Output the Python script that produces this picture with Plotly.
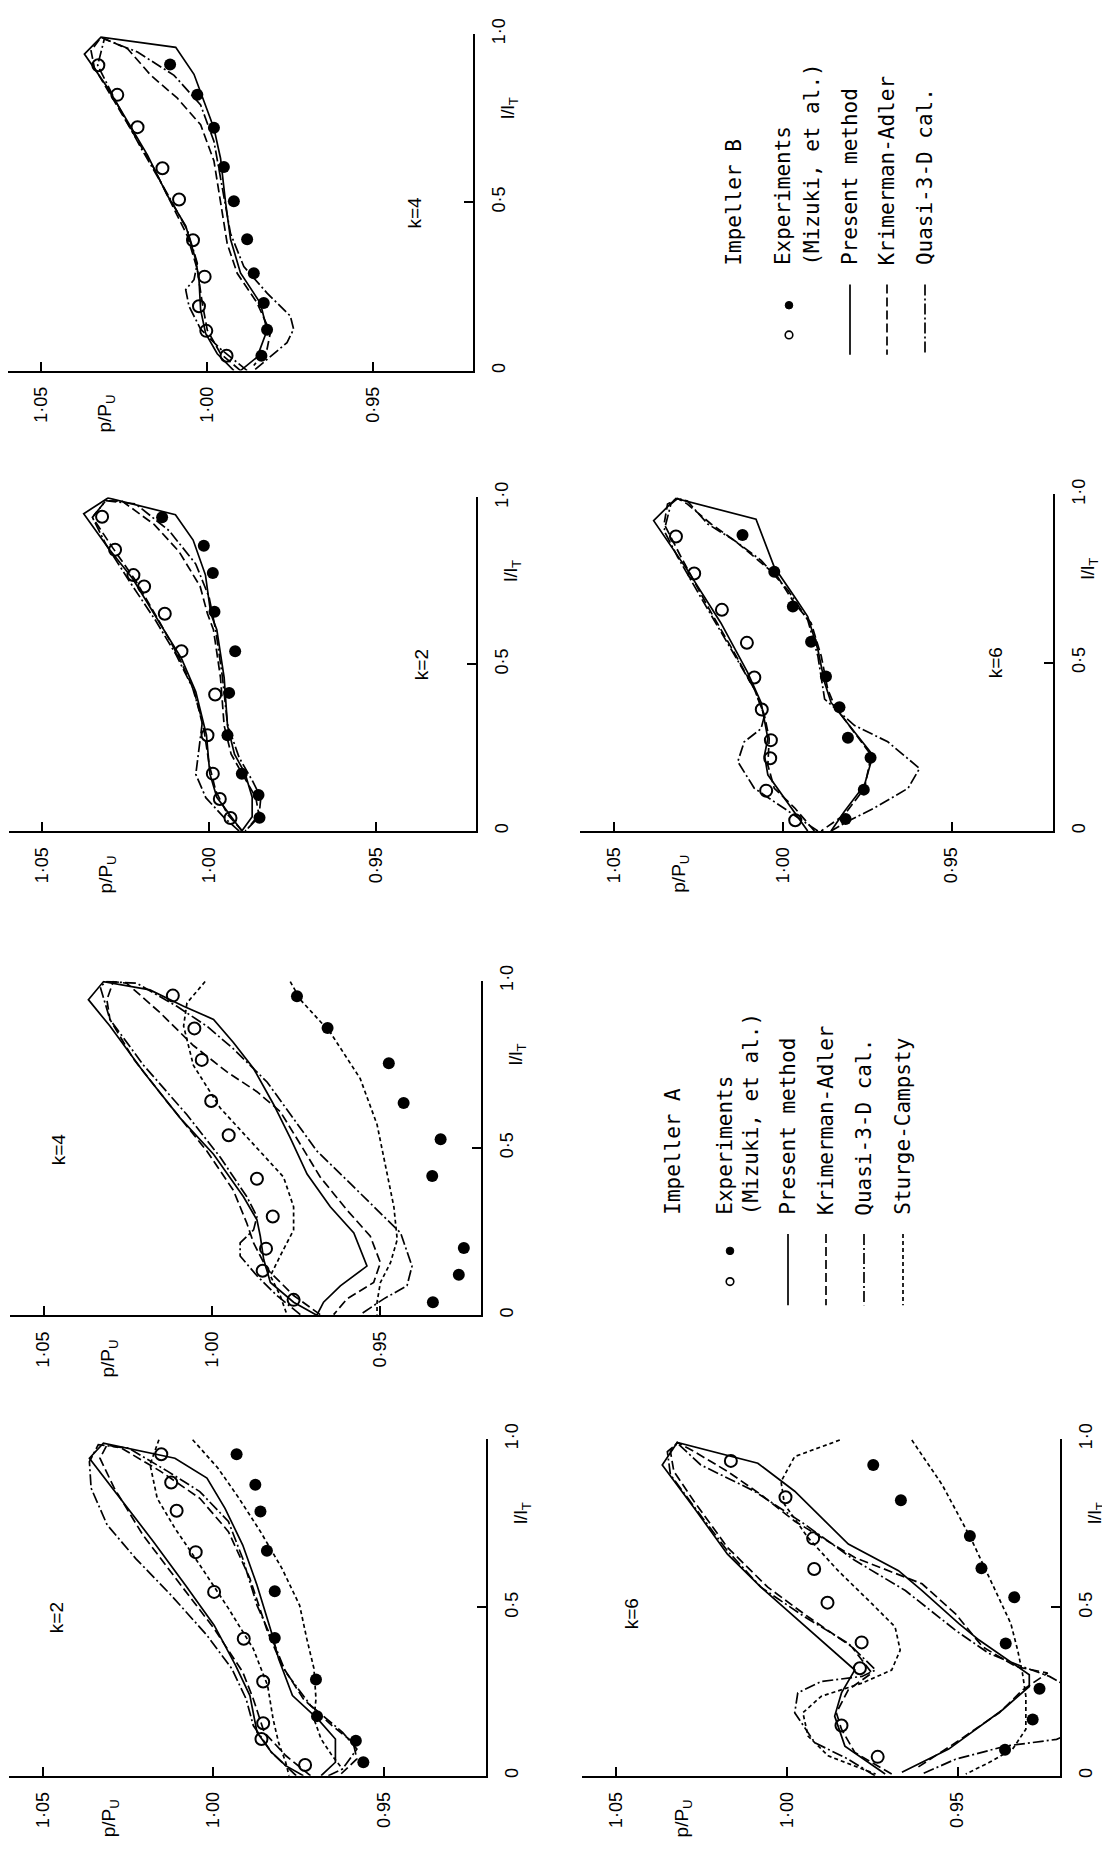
import plotly.graph_objects as go

W, H = 1110, 1850
OFF = 8  # default page margin of the browser body; the figure is shifted by it
FW, FH = W - OFF, H - OFF

# ---------------- tick labels ----------------
P_TICKS = [1.05, 1.00, 0.95]
P_TICK_TEXT = ["1·05", "1·00", "0·95"]
L_TICKS = [0.0, 0.5, 1.0]
L_TICK_TEXT = ["0", "0·5", "1·0"]

# ---------------- Impeller A, k=2 ----------------
A2_open_p = [1.0153, 1.0124, 1.0108, 1.0052, 0.9998, 0.9911, 0.9854, 0.9854, 0.9859, 0.9731]
A2_open_l = [0.955, 0.871, 0.787, 0.664, 0.546, 0.407, 0.280, 0.156, 0.109, 0.032]
A2_fill_p = [0.9932, 0.9877, 0.9862, 0.9843, 0.9820, 0.9820, 0.9699, 0.9696, 0.9582, 0.9560]
A2_fill_l = [0.955, 0.864, 0.785, 0.668, 0.548, 0.409, 0.286, 0.177, 0.104, 0.040]
A2_present_p = [0.9736, 0.9788, 0.9830, 0.9872, 0.9893, 0.9935, 0.9998, 1.0082, 1.0176, 1.0281, 1.0364, 1.0323,
                1.0113, 1.0019, 0.9966, 0.9914, 0.9872, 0.9830, 0.9809, 0.9768, 0.9694, 0.9642, 0.9642, 0.9684]
A2_present_l = [0.0, 0.030, 0.070, 0.129, 0.238, 0.328, 0.447, 0.566, 0.695, 0.834, 0.943, 0.988,
                0.943, 0.884, 0.794, 0.685, 0.566, 0.427, 0.348, 0.238, 0.169, 0.109, 0.040, 0.0]
A2_ka_p = [0.9715, 0.9788, 0.9851, 0.9883, 0.9914, 0.9998, 1.0103, 1.0207, 1.0291, 1.0333, 1.0312,
           1.0270, 1.0155, 1.0040, 0.9956, 0.9893, 0.9841, 0.9799, 0.9736, 0.9652, 0.9590, 0.9579, 0.9631]
A2_ka_l = [0.0, 0.060, 0.129, 0.228, 0.308, 0.437, 0.576, 0.715, 0.854, 0.943, 0.983,
           0.973, 0.904, 0.824, 0.725, 0.586, 0.427, 0.328, 0.228, 0.149, 0.099, 0.050, 0.0]
A2_q3d_p = [0.9757, 0.9830, 0.9883, 0.9904, 0.9946, 1.0019, 1.0124, 1.0228, 1.0312, 1.0359, 1.0364, 1.0338,
            1.0249, 1.0134, 1.0040, 0.9956, 0.9914, 0.9872, 0.9820, 0.9788, 0.9715, 0.9621, 0.9579, 0.9621, 0.9663]
A2_q3d_l = [0.0, 0.070, 0.149, 0.228, 0.318, 0.417, 0.536, 0.645, 0.745, 0.854, 0.933, 0.983,
            0.973, 0.904, 0.844, 0.755, 0.645, 0.506, 0.387, 0.308, 0.209, 0.129, 0.079, 0.020, 0.0]
A2_sc_up_p = [1.0160, 1.0186, 1.0165, 1.0113, 1.0040, 0.9956, 0.9883, 0.9841, 0.9825, 0.9809, 0.9788, 0.9778]
A2_sc_up_l = [0.998, 0.924, 0.824, 0.735, 0.626, 0.497, 0.377, 0.268, 0.169, 0.099, 0.040, 0.0]
A2_sc_lo_p = [1.0061, 0.9987, 0.9925, 0.9862, 0.9799, 0.9747, 0.9726, 0.9705, 0.9699, 0.9705, 0.9684, 0.9652, 0.9621]
A2_sc_lo_l = [0.998, 0.914, 0.824, 0.725, 0.616, 0.506, 0.407, 0.318, 0.228, 0.169, 0.109, 0.060, 0.020]

# ---------------- Impeller A, k=4 ----------------
A4_open_p = [1.0116, 1.0052, 1.0030, 1.0002, 0.9950, 0.9866, 0.9819, 0.9839, 0.9849, 0.9757]
A4_open_l = [0.955, 0.857, 0.763, 0.640, 0.538, 0.408, 0.295, 0.199, 0.133, 0.046]
A4_fill_p = [0.9747, 0.9656, 0.9474, 0.9430, 0.9320, 0.9345, 0.9177, 0.9251, 0.9266, 0.9343]
A4_fill_l = [0.953, 0.858, 0.753, 0.634, 0.526, 0.416, 0.300, 0.201, 0.121, 0.039]
A4_present_p = [0.9688, 0.9757, 0.9826, 0.9846, 0.9856, 0.9866, 0.9906, 0.9995, 1.0094, 1.0203, 1.0303, 1.0367, 1.0322,
                1.0184, 1.0084, 0.9995, 0.9936, 0.9876, 0.9816, 0.9767, 0.9717, 0.9648, 0.9578, 0.9539, 0.9618, 0.9668, 0.9688]
A4_present_l = [0.0, 0.039, 0.098, 0.167, 0.236, 0.285, 0.354, 0.481, 0.589, 0.727, 0.864, 0.943, 0.997,
                0.972, 0.923, 0.884, 0.815, 0.737, 0.629, 0.530, 0.422, 0.324, 0.246, 0.147, 0.088, 0.039, 0.0]
A4_ka_p = [0.9678, 0.9757, 0.9836, 0.9876, 0.9896, 0.9936, 1.0015, 1.0134, 1.0233, 1.0303, 1.0312, 1.0293,
           1.0253, 1.0154, 1.0055, 0.9955, 0.9866, 0.9797, 0.9737, 0.9678, 0.9598, 0.9529, 0.9499, 0.9519, 0.9598, 0.9638]
A4_ka_l = [0.002, 0.059, 0.138, 0.216, 0.275, 0.373, 0.491, 0.639, 0.766, 0.884, 0.943, 0.997,
           0.992, 0.904, 0.806, 0.727, 0.668, 0.609, 0.511, 0.413, 0.314, 0.236, 0.157, 0.098, 0.049, 0.002]
A4_q3d_p = [0.9737, 0.9807, 0.9866, 0.9916, 0.9916, 0.9876, 0.9866, 0.9896, 0.9975, 1.0074, 1.0203, 1.0303, 1.0332, 1.0312,
            1.0223, 1.0104, 1.0015, 0.9936, 0.9836, 0.9757, 0.9688, 0.9588, 0.9509, 0.9439, 0.9405, 0.9420, 0.9489, 0.9559]
A4_q3d_l = [0.002, 0.059, 0.118, 0.177, 0.216, 0.255, 0.295, 0.354, 0.472, 0.599, 0.747, 0.884, 0.982, 0.997,
            0.992, 0.923, 0.864, 0.796, 0.697, 0.589, 0.491, 0.393, 0.314, 0.246, 0.147, 0.088, 0.049, 0.002]
A4_sc_up_p = [1.0020, 1.0074, 1.0084, 1.0055, 0.9975, 0.9876, 0.9787, 0.9757, 0.9757, 0.9797, 0.9826, 0.9797, 0.9777]
A4_sc_up_l = [0.997, 0.933, 0.864, 0.747, 0.619, 0.511, 0.413, 0.324, 0.255, 0.177, 0.118, 0.059, 0.002]
A4_sc_lo_p = [0.9767, 0.9737, 0.9648, 0.9559, 0.9509, 0.9479, 0.9459, 0.9449, 0.9469, 0.9499, 0.9509, 0.9509]
A4_sc_lo_l = [0.997, 0.943, 0.845, 0.707, 0.570, 0.422, 0.324, 0.226, 0.157, 0.098, 0.039, 0.002]

# ---------------- Impeller A, k=6 ----------------
A6_open_p = [1.0164, 1.0004, 0.9923, 0.9920, 0.9881, 0.9781, 0.9786, 0.9840, 0.9734]
A6_open_l = [0.935, 0.827, 0.705, 0.614, 0.514, 0.396, 0.319, 0.149, 0.056]
A6_fill_p = [0.9747, 0.9666, 0.9464, 0.9430, 0.9334, 0.9359, 0.9187, 0.9260, 0.9280, 0.9361]
A6_fill_l = [0.923, 0.818, 0.712, 0.616, 0.530, 0.393, 0.334, 0.258, 0.167, 0.077]
A6_present_p = [0.9712, 0.9830, 0.9860, 0.9840, 0.9801, 0.9879, 0.9968, 1.0076, 1.0174, 1.0272, 1.0365, 1.0321,
                1.0085, 0.9977, 0.9820, 0.9673, 0.9604, 0.9496, 0.9437, 0.9339, 0.9290, 0.9290, 0.9368, 0.9526, 0.9663]
A6_present_l = [0.005, 0.088, 0.177, 0.246, 0.314, 0.383, 0.462, 0.560, 0.658, 0.796, 0.923, 0.990,
                0.928, 0.845, 0.688, 0.609, 0.550, 0.452, 0.403, 0.334, 0.300, 0.265, 0.196, 0.079, 0.010]
A6_ka_p = [0.9693, 0.9801, 0.9840, 0.9855, 0.9820, 0.9751, 0.9810, 0.9938, 1.0056, 1.0174, 1.0272, 1.0331, 1.0341, 1.0321,
           1.0272, 1.0174, 1.0076, 0.9977, 0.9801, 0.9604, 0.9506, 0.9427, 0.9329, 0.9236, 0.9309, 0.9378, 0.9506, 0.9624]
A6_ka_l = [0.005, 0.069, 0.138, 0.187, 0.255, 0.305, 0.383, 0.472, 0.560, 0.678, 0.815, 0.904, 0.963, 0.990,
           0.963, 0.904, 0.835, 0.756, 0.648, 0.570, 0.481, 0.383, 0.324, 0.305, 0.255, 0.187, 0.098, 0.020]
A6_q3d_p = [0.9742, 0.9820, 0.9918, 0.9977, 0.9968, 0.9899, 0.9780, 0.9740, 0.9820, 0.9948, 1.0076, 1.0174, 1.0262, 1.0341, 1.0350, 1.0320,
            1.0252, 1.0095, 0.9948, 0.9800, 0.9653, 0.9506, 0.9408, 0.9310, 0.9231, 0.9152, 0.9080, 0.9110, 0.9210, 0.9359, 0.9506, 0.9604]
A6_q3d_l = [0.0, 0.049, 0.098, 0.187, 0.246, 0.280, 0.295, 0.314, 0.393, 0.472, 0.560, 0.668, 0.786, 0.894, 0.963, 0.987,
            0.923, 0.845, 0.747, 0.639, 0.550, 0.432, 0.363, 0.324, 0.295, 0.250, 0.200, 0.150, 0.108, 0.088, 0.049, 0.005]
A6_sc_up_p = [0.9845, 0.9977, 1.0017, 1.0007, 0.9938, 0.9850, 0.9751, 0.9683, 0.9668, 0.9693, 0.9780, 0.9899, 0.9953, 0.9938, 0.9879, 0.9740]
A6_sc_up_l = [0.997, 0.948, 0.874, 0.806, 0.707, 0.609, 0.511, 0.442, 0.373, 0.314, 0.275, 0.236, 0.187, 0.118, 0.059, 0.005]
A6_sc_lo_p = [0.9634, 0.9545, 0.9462, 0.9398, 0.9344, 0.9324, 0.9310, 0.9300, 0.9300, 0.9339, 0.9408, 0.9476]
A6_sc_lo_l = [0.997, 0.864, 0.707, 0.570, 0.452, 0.373, 0.305, 0.236, 0.138, 0.079, 0.039, 0.005]

# ---------------- Impeller B, k=2 ----------------
B2_open_p = [1.0321, 1.0282, 1.0227, 1.0195, 1.0133, 1.0083, 0.9982, 1.0005, 0.9989, 0.9968, 0.9936]
B2_open_l = [0.942, 0.843, 0.767, 0.733, 0.651, 0.539, 0.409, 0.287, 0.172, 0.096, 0.039]
B2_fill_p = [1.0141, 1.0016, 0.9989, 0.9984, 0.9922, 0.9940, 0.9945, 0.9902, 0.9852, 0.9849]
B2_fill_l = [0.940, 0.855, 0.773, 0.657, 0.539, 0.414, 0.287, 0.172, 0.108, 0.040]
B2_present_p = [0.9902, 0.9934, 0.9977, 0.9998, 1.0008, 1.0040, 1.0083, 1.0136, 1.0165, 1.0229, 1.0303, 1.0376, 1.0303,
                1.0101, 1.0048, 1.0011, 0.9995, 0.9977, 0.9955, 0.9945, 0.9924, 0.9892, 0.9871, 0.9871, 0.9902]
B2_present_l = [0.0, 0.043, 0.101, 0.172, 0.287, 0.417, 0.517, 0.603, 0.651, 0.756, 0.849, 0.951, 0.998,
                0.948, 0.872, 0.767, 0.651, 0.603, 0.460, 0.316, 0.230, 0.172, 0.101, 0.043, 0.0]
B2_ka_p = [0.9900, 0.9945, 0.9980, 1.0000, 1.0015, 1.0045, 1.0090, 1.0145, 1.0220, 1.0290, 1.0350, 1.0310,
           1.0260, 1.0165, 1.0090, 1.0027, 1.0005, 0.9987, 0.9966, 0.9955, 0.9934, 0.9892, 0.9860, 0.9850, 0.9892]
B2_ka_l = [0.0, 0.05, 0.12, 0.20, 0.30, 0.42, 0.52, 0.62, 0.75, 0.85, 0.94, 0.99,
           0.988, 0.919, 0.837, 0.733, 0.651, 0.603, 0.46, 0.316, 0.23, 0.158, 0.10, 0.043, 0.0]
B2_q3d_p = [0.9910, 0.9955, 1.0010, 1.0040, 1.0030, 1.0020, 1.0050, 1.0100, 1.0160, 1.0240, 1.0310, 1.0350, 1.0310,
            1.0220, 1.0120, 1.0040, 1.0000, 0.9980, 0.9960, 0.9945, 0.9910, 0.9870, 0.9845, 0.9850, 0.9890]
B2_q3d_l = [0.0, 0.04, 0.10, 0.17, 0.25, 0.33, 0.43, 0.53, 0.63, 0.75, 0.86, 0.94, 0.99,
            0.98, 0.90, 0.80, 0.70, 0.60, 0.46, 0.32, 0.22, 0.15, 0.10, 0.05, 0.0]

# ---------------- Impeller B, k=4 ----------------
B4_open_p = [1.0328, 1.0271, 1.0210, 1.0135, 1.0085, 1.0043, 1.0008, 1.0025, 1.0003, 0.9942]
B4_open_l = [0.907, 0.819, 0.723, 0.601, 0.508, 0.387, 0.279, 0.191, 0.118, 0.044]
B4_fill_p = [1.0112, 1.0030, 0.9980, 0.9950, 0.9920, 0.9880, 0.9860, 0.9830, 0.9820, 0.9837]
B4_fill_l = [0.909, 0.819, 0.721, 0.605, 0.503, 0.390, 0.289, 0.201, 0.121, 0.044]
B4_present_p = [0.9920, 0.9970, 1.0005, 1.0020, 1.0025, 1.0035, 1.0065, 1.0120, 1.0180, 1.0240, 1.0300, 1.0370, 1.0320,
                1.0095, 1.0040, 1.0010, 0.9980, 0.9960, 0.9945, 0.9930, 0.9900, 0.9840, 0.9820, 0.9850, 0.9900]
B4_present_l = [0.0, 0.05, 0.11, 0.18, 0.27, 0.33, 0.43, 0.52, 0.64, 0.74, 0.84, 0.94, 0.99,
                0.96, 0.88, 0.80, 0.72, 0.63, 0.50, 0.39, 0.29, 0.20, 0.12, 0.04, 0.0]
B4_ka_p = [0.9900, 0.9960, 1.0000, 1.0015, 1.0030, 1.0060, 1.0110, 1.0160, 1.0220, 1.0280, 1.0340, 1.0350, 1.0320,
           1.0240, 1.0170, 1.0090, 1.0020, 0.9980, 0.9960, 0.9940, 0.9910, 0.9850, 0.9810, 0.9820, 0.9860]
B4_ka_l = [0.0, 0.05, 0.12, 0.20, 0.30, 0.40, 0.50, 0.60, 0.70, 0.80, 0.90, 0.95, 0.99,
           0.956, 0.877, 0.809, 0.73, 0.623, 0.505, 0.377, 0.289, 0.201, 0.113, 0.064, 0.015]
B4_q3d_p = [0.9880, 0.9960, 1.0020, 1.0055, 1.0065, 1.0040, 1.0030, 1.0060, 1.0120, 1.0200, 1.0270, 1.0330, 1.0310,
            1.0210, 1.0100, 1.0020, 0.9980, 0.9955, 0.9930, 0.9890, 0.9820, 0.9750, 0.9740, 0.9760, 0.9820, 0.9860]
B4_q3d_l = [0.0, 0.064, 0.123, 0.191, 0.24, 0.27, 0.319, 0.417, 0.525, 0.662, 0.789, 0.907, 0.985,
            0.946, 0.877, 0.789, 0.681, 0.544, 0.407, 0.309, 0.230, 0.162, 0.123, 0.083, 0.034, 0.0]

# ---------------- Impeller B, k=6 ----------------
B6_open_p = [1.0316, 1.0262, 1.0180, 1.0106, 1.0084, 1.0062, 1.0035, 1.0037, 1.0049, 0.9963]
B6_open_l = [0.875, 0.765, 0.657, 0.559, 0.456, 0.361, 0.270, 0.216, 0.120, 0.032]
B6_fill_p = [1.0119, 1.0025, 0.9970, 0.9916, 0.9872, 0.9832, 0.9807, 0.9740, 0.9760, 0.9814]
B6_fill_l = [0.879, 0.770, 0.667, 0.562, 0.459, 0.368, 0.277, 0.218, 0.123, 0.036]
B6_present_p = [0.9926, 0.9995, 1.0044, 1.0054, 1.0044, 1.0064, 1.0104, 1.0183, 1.0282, 1.0382, 1.0316,
                1.0079, 1.0025, 0.9965, 0.9926, 0.9896, 0.9876, 0.9857, 0.9788, 0.9733, 0.9758, 0.9817, 0.9857]
B6_present_l = [0.0, 0.098, 0.167, 0.225, 0.275, 0.382, 0.471, 0.618, 0.775, 0.922, 0.988,
                0.926, 0.784, 0.696, 0.637, 0.539, 0.441, 0.382, 0.294, 0.225, 0.137, 0.059, 0.0]
B6_ka_p = [0.9906, 0.9965, 1.0025, 1.0044, 1.0040, 1.0054, 1.0084, 1.0143, 1.0222, 1.0301, 1.0351, 1.0341, 1.0311,
           1.0282, 1.0212, 1.0143, 1.0084, 1.0015, 0.9965, 0.9916, 0.9886, 0.9867, 0.9847, 0.9788, 0.9738, 0.9758, 0.9817, 0.9886]
B6_ka_l = [0.0, 0.069, 0.127, 0.196, 0.275, 0.343, 0.422, 0.529, 0.667, 0.814, 0.912, 0.971, 0.988,
           0.971, 0.912, 0.863, 0.814, 0.755, 0.676, 0.618, 0.520, 0.422, 0.373, 0.294, 0.225, 0.127, 0.049, 0.0]
B6_q3d_p = [0.9896, 0.9985, 1.0084, 1.0133, 1.0114, 1.0064, 1.0054, 1.0084, 1.0153, 1.0232, 1.0311, 1.0351, 1.0331, 1.0311,
            1.0282, 1.0222, 1.0143, 1.0064, 0.9985, 0.9926, 0.9896, 0.9876, 0.9788, 0.9689, 0.9595, 0.9629, 0.9728, 0.9807, 0.9857]
B6_q3d_l = [0.0, 0.059, 0.127, 0.206, 0.265, 0.304, 0.343, 0.422, 0.539, 0.676, 0.814, 0.892, 0.971, 0.988,
            0.980, 0.912, 0.863, 0.804, 0.716, 0.627, 0.520, 0.392, 0.314, 0.265, 0.186, 0.127, 0.069, 0.029, 0.0]

# ---------------- legend texts ----------------
LEG_A_TITLE = "Impeller A"
LEG_B_TITLE = "Impeller B"
LEG_EXP = ["Experiments", "(Mizuki, et al.)"]
LEG_A_METHODS = ["Present method", "Krimerman-Adler", "Quasi-3-D cal.", "Sturge-Campsty"]
LEG_B_METHODS = ["Present method", "Krimerman-Adler", "Quasi-3-D cal."]

# ---------------- styles ----------------
DASH = {
    "Present method": "solid",
    "Krimerman-Adler": "9px,4px",
    "Quasi-3-D cal.": "11px,3px,2px,3px",
    "Sturge-Campsty": "4px,3px",
}
TICK_FONT = dict(family="Liberation Sans, Arial, sans-serif", size=18, color="black")
K_FONT = dict(family="Liberation Sans, Arial, sans-serif", size=19, color="black")
LABEL_FONT = dict(family="Liberation Sans, Arial, sans-serif", size=19, color="black")
LEG_FONT = dict(family="DejaVu Sans Mono, Liberation Mono, monospace", size=21, color="black")

# panel: k label, pixel box (x at p=1.06, x at p=0.92, y at l=1, y at l=0), k-label position (p, l)
PANELS = [
    dict(k="k=2", box=(9, 486, 1437, 1777), kpos=(1.046, 0.47),
         open=(A2_open_p, A2_open_l), fill=(A2_fill_p, A2_fill_l),
         curves=[("Present method", A2_present_p, A2_present_l), ("Krimerman-Adler", A2_ka_p, A2_ka_l),
                 ("Quasi-3-D cal.", A2_q3d_p, A2_q3d_l), ("Sturge-Campsty", A2_sc_up_p, A2_sc_up_l),
                 ("Sturge-Campsty", A2_sc_lo_p, A2_sc_lo_l)]),
    dict(k="k=4", box=(10, 481, 974, 1312), kpos=(1.0455, 0.495),
         open=(A4_open_p, A4_open_l), fill=(A4_fill_p, A4_fill_l),
         curves=[("Present method", A4_present_p, A4_present_l), ("Krimerman-Adler", A4_ka_p, A4_ka_l),
                 ("Quasi-3-D cal.", A4_q3d_p, A4_q3d_l), ("Sturge-Campsty", A4_sc_up_p, A4_sc_up_l),
                 ("Sturge-Campsty", A4_sc_lo_p, A4_sc_lo_l)]),
    dict(k="k=6", box=(582, 1060, 1437, 1777), kpos=(1.0456, 0.48),
         open=(A6_open_p, A6_open_l), fill=(A6_fill_p, A6_fill_l),
         curves=[("Present method", A6_present_p, A6_present_l), ("Krimerman-Adler", A6_ka_p, A6_ka_l),
                 ("Quasi-3-D cal.", A6_q3d_p, A6_q3d_l), ("Sturge-Campsty", A6_sc_up_p, A6_sc_up_l),
                 ("Sturge-Campsty", A6_sc_lo_p, A6_sc_lo_l)]),
    dict(k="k=2", box=(9, 476, 486, 823), kpos=(0.9365, 0.50),
         open=(B2_open_p, B2_open_l), fill=(B2_fill_p, B2_fill_l),
         curves=[("Present method", B2_present_p, B2_present_l), ("Krimerman-Adler", B2_ka_p, B2_ka_l),
                 ("Quasi-3-D cal.", B2_q3d_p, B2_q3d_l)]),
    dict(k="k=4", box=(8, 473, 18, 358), kpos=(0.9377, 0.47),
         open=(B4_open_p, B4_open_l), fill=(B4_fill_p, B4_fill_l),
         curves=[("Present method", B4_present_p, B4_present_l), ("Krimerman-Adler", B4_ka_p, B4_ka_l),
                 ("Quasi-3-D cal.", B4_q3d_p, B4_q3d_l)]),
    dict(k="k=6", box=(580, 1053, 483, 823), kpos=(0.937, 0.50),
         open=(B6_open_p, B6_open_l), fill=(B6_fill_p, B6_fill_l),
         curves=[("Present method", B6_present_p, B6_present_l), ("Krimerman-Adler", B6_ka_p, B6_ka_l),
                 ("Quasi-3-D cal.", B6_q3d_p, B6_q3d_l)]),
]

P_RANGE = [1.06, 0.92]
L_RANGE = [0.0, 1.0]


def px(x):
    return (x - OFF) / FW


def py(y):
    return 1 - (y - OFF) / FH


def clamp(v):
    return min(1.0, max(0.0, v))


fig = go.Figure()
annotations = []
shapes = []

for i, pan in enumerate(PANELS, start=1):
    xa = "x" if i == 1 else f"x{i}"
    ya = "y" if i == 1 else f"y{i}"
    x0, x1, yt, yb = pan["box"]
    xkey = "xaxis" if i == 1 else f"xaxis{i}"
    ykey = "yaxis" if i == 1 else f"yaxis{i}"
    fig.update_layout({
        xkey: dict(domain=[clamp(px(x0)), clamp(px(x1))], range=P_RANGE, anchor=ya,
                   showline=True, linecolor="black", linewidth=2,
                   ticks="inside", ticklen=9, tickwidth=1.8, tickcolor="black",
                   tickvals=P_TICKS, ticktext=P_TICK_TEXT, tickangle=-90,
                   tickfont=TICK_FONT, ticklabelstandoff=7,
                   showgrid=False, zeroline=False, fixedrange=True),
        ykey: dict(domain=[clamp(py(yb)), clamp(py(yt))], range=L_RANGE, anchor=xa, side="right",
                   showline=True, linecolor="black", linewidth=2,
                   ticks="inside", ticklen=9, tickwidth=1.8, tickcolor="black",
                   tickvals=L_TICKS, ticktext=L_TICK_TEXT, tickangle=-90,
                   tickfont=TICK_FONT, ticklabelstandoff=8,
                   showgrid=False, zeroline=False, fixedrange=True),
    })
    for name, pp, ll in pan["curves"]:
        fig.add_trace(go.Scatter(x=pp, y=ll, mode="lines", xaxis=xa, yaxis=ya,
                                 line=dict(color="black", width=1.7, dash=DASH[name]),
                                 cliponaxis=False, showlegend=False, hoverinfo="skip"))
    fig.add_trace(go.Scatter(x=pan["open"][0], y=pan["open"][1], mode="markers", xaxis=xa, yaxis=ya,
                             marker=dict(symbol="circle-open", size=12, color="black", line=dict(width=2)),
                             cliponaxis=False, showlegend=False, hoverinfo="skip"))
    fig.add_trace(go.Scatter(x=pan["fill"][0], y=pan["fill"][1], mode="markers", xaxis=xa, yaxis=ya,
                             marker=dict(symbol="circle", size=12, color="black"),
                             cliponaxis=False, showlegend=False, hoverinfo="skip"))
    # axis titles and k label
    annotations.append(dict(xref=xa, yref=ya, x=1.0305, y=0.0, yanchor="top", xanchor="center",
                            yshift=-22, text="p/P<sub>U</sub>", textangle=-90, showarrow=False,
                            font=LABEL_FONT))
    annotations.append(dict(xref=xa, yref=ya, x=P_RANGE[1], y=0.78, xanchor="center", yanchor="middle",
                            xshift=36, text="l/l<sub>T</sub>", textangle=-90, showarrow=False,
                            font=LABEL_FONT))
    annotations.append(dict(xref=xa, yref=ya, x=pan["kpos"][0], y=pan["kpos"][1], xanchor="center",
                            yanchor="middle", text=pan["k"], textangle=-90, showarrow=False,
                            font=K_FONT))


def add_legend(title, title_x, exp_x, text_bottom, method_names, method_x, line_y, marker_x, marker_y):
    annotations.append(dict(xref="paper", yref="paper", x=px(title_x), y=py(text_bottom), xanchor="center",
                            yanchor="bottom", text=title, textangle=-90, showarrow=False, font=LEG_FONT))
    for t, xx in zip(LEG_EXP, exp_x):
        annotations.append(dict(xref="paper", yref="paper", x=px(xx), y=py(text_bottom), xanchor="center",
                                yanchor="bottom", text=t, textangle=-90, showarrow=False, font=LEG_FONT))
    for name, xx in zip(method_names, method_x):
        annotations.append(dict(xref="paper", yref="paper", x=px(xx), y=py(text_bottom), xanchor="center",
                                yanchor="bottom", text=name, textangle=-90, showarrow=False, font=LEG_FONT))
        shapes.append(dict(type="line", xref="paper", yref="paper", x0=px(xx), x1=px(xx),
                           y0=py(line_y[0]), y1=py(line_y[1]),
                           line=dict(color="black", width=1.7, dash=DASH[name])))
    r = 3.8
    shapes.append(dict(type="circle", xref="paper", yref="paper",
                       x0=px(marker_x - r), x1=px(marker_x + r), y0=py(marker_y[0] + r), y1=py(marker_y[0] - r),
                       fillcolor="black", line=dict(color="black", width=1)))
    shapes.append(dict(type="circle", xref="paper", yref="paper",
                       x0=px(marker_x - r), x1=px(marker_x + r), y0=py(marker_y[1] + r), y1=py(marker_y[1] - r),
                       fillcolor="white", line=dict(color="black", width=1.6)))


add_legend(LEG_B_TITLE, 734, [783, 812], 254, LEG_B_METHODS, [850, 887, 925], (271, 342), 789, (292, 322))
add_legend(LEG_A_TITLE, 673, [725, 751], 1213, LEG_A_METHODS, [788, 826, 864, 903], (1230, 1302), 730, (1247, 1278))

fig.update_layout(width=FW, height=FH, margin=dict(l=0, r=0, t=0, b=0),
                  paper_bgcolor="white", plot_bgcolor="white",
                  annotations=annotations, shapes=shapes, showlegend=False)

fig.write_html("out.html")
